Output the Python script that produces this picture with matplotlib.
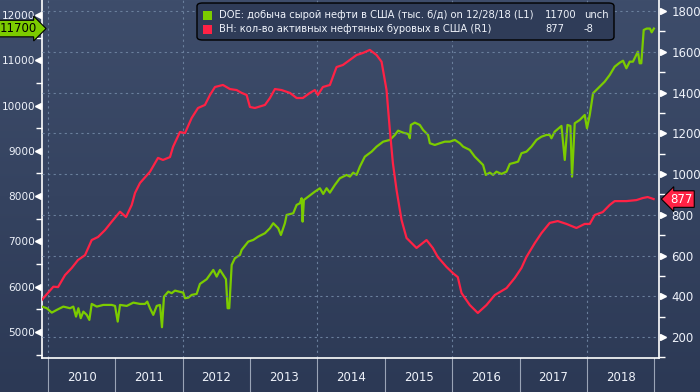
import numpy as np
import matplotlib
matplotlib.use("Agg")
import matplotlib.pyplot as plt
from matplotlib.colors import LinearSegmentedColormap
from matplotlib.patches import FancyBboxPatch, Rectangle

plt.rcParams['font.family'] = ['DejaVu Sans']

# US crude production, thousand b/d (left axis), decimal years
oil_t = [2009.881, 2009.981, 2010.055, 2010.129, 2010.227, 2010.326, 2010.375, 2010.415,
         2010.450, 2010.485, 2010.524, 2010.574, 2010.613, 2010.648, 2010.723, 2010.820,
         2010.945, 2010.994, 2011.034, 2011.068, 2011.168, 2011.266, 2011.365, 2011.439,
         2011.473, 2011.513, 2011.562, 2011.613, 2011.662, 2011.691, 2011.721, 2011.785,
         2011.835, 2011.884, 2012.007, 2012.033, 2012.082, 2012.132, 2012.206, 2012.255,
         2012.355, 2012.453, 2012.503, 2012.552, 2012.601, 2012.641, 2012.666, 2012.690,
         2012.726, 2012.774, 2012.849, 2012.874, 2012.972, 2013.046, 2013.120, 2013.220,
         2013.294, 2013.343, 2013.417, 2013.457, 2013.516, 2013.542, 2013.640, 2013.690,
         2013.739, 2013.764, 2013.779, 2013.798, 2013.862, 2013.961, 2014.036, 2014.085,
         2014.135, 2014.184, 2014.258, 2014.332, 2014.432, 2014.481, 2014.530, 2014.580,
         2014.629, 2014.703, 2014.803, 2014.877, 2014.975, 2015.074, 2015.148, 2015.197,
         2015.271, 2015.346, 2015.371, 2015.386, 2015.445, 2015.519, 2015.568, 2015.642,
         2015.668, 2015.742, 2015.816, 2015.890, 2015.964, 2016.039, 2016.113, 2016.162,
         2016.261, 2016.335, 2016.409, 2016.458, 2016.499, 2016.558, 2016.607, 2016.657,
         2016.731, 2016.806, 2016.855, 2016.929, 2016.978, 2017.028, 2017.102, 2017.151,
         2017.176, 2017.251, 2017.325, 2017.399, 2017.448, 2017.473, 2017.522, 2017.622,
         2017.671, 2017.711, 2017.755, 2017.779, 2017.819, 2017.893, 2017.967, 2018.001,
         2018.042, 2018.091, 2018.165, 2018.264, 2018.338, 2018.412, 2018.487, 2018.536,
         2018.586, 2018.635, 2018.683, 2018.733, 2018.757, 2018.783, 2018.807, 2018.843,
         2018.887, 2018.936, 2018.961, 2018.994]
oil_v = [5576, 5525, 5428, 5488, 5561, 5525, 5561, 5340,
         5525, 5305, 5450, 5378, 5267, 5620, 5561, 5598,
         5598, 5576, 5230, 5598, 5576, 5649, 5620, 5620,
         5671, 5525, 5378, 5576, 5598, 5106, 5781, 5892,
         5857, 5914, 5870, 5746, 5759, 5819, 5841, 6062,
         6166, 6371, 6223, 6371, 6260, 6166, 5525, 5525,
         6481, 6629, 6702, 6812, 6996, 7033, 7106, 7181,
         7291, 7402, 7291, 7143, 7402, 7585, 7622, 7806,
         7843, 7954, 7437, 7916, 7989, 8099, 8174, 8049,
         8174, 8077, 8247, 8395, 8468, 8431, 8519, 8468,
         8651, 8872, 8982, 9093, 9203, 9241, 9351, 9446,
         9402, 9373, 9278, 9572, 9623, 9572, 9461, 9351,
         9168, 9130, 9168, 9203, 9203, 9241, 9168, 9093,
         9020, 8872, 8762, 8689, 8468, 8519, 8468, 8541,
         8490, 8541, 8711, 8740, 8762, 8947, 8982, 9057,
         9093, 9241, 9313, 9351, 9351, 9278, 9424, 9550,
         8799, 9572, 9550, 8430, 9609, 9682, 9792, 9499,
         9792, 10272, 10382, 10528, 10675, 10859, 10947, 10991,
         10823, 10969, 10969, 11117, 11190, 10934, 10934, 11669,
         11700, 11700, 11618, 11700]

# Baker Hughes US oil rigs (right axis)
rig_t = [2009.907, 2010.079, 2010.148, 2010.252, 2010.352, 2010.445, 2010.549, 2010.648,
         2010.742, 2010.846, 2010.945, 2011.068, 2011.157, 2011.242, 2011.291, 2011.365,
         2011.513, 2011.632, 2011.706, 2011.810, 2011.855, 2011.958, 2012.033, 2012.132,
         2012.226, 2012.329, 2012.404, 2012.478, 2012.596, 2012.700, 2012.800, 2012.874,
         2012.948, 2012.997, 2013.071, 2013.220, 2013.294, 2013.368, 2013.467, 2013.591,
         2013.690, 2013.783, 2013.887, 2013.961, 2014.006, 2014.080, 2014.184, 2014.283,
         2014.377, 2014.481, 2014.580, 2014.674, 2014.777, 2014.877, 2014.951, 2015.025,
         2015.074, 2015.119, 2015.174, 2015.223, 2015.248, 2015.322, 2015.470, 2015.619,
         2015.712, 2015.786, 2015.915, 2016.009, 2016.083, 2016.138, 2016.261, 2016.380,
         2016.509, 2016.632, 2016.806, 2016.929, 2017.028, 2017.102, 2017.226, 2017.325,
         2017.448, 2017.567, 2017.696, 2017.844, 2017.967, 2018.042, 2018.116, 2018.234,
         2018.338, 2018.412, 2018.586, 2018.735, 2018.828, 2018.902, 2018.990]
rig_v = [382, 447, 445, 504, 539, 578, 602, 676,
         691, 725, 766, 815, 789, 848, 907, 956,
         1011, 1079, 1069, 1083, 1133, 1206, 1201, 1275,
         1324, 1339, 1388, 1427, 1437, 1417, 1412, 1398,
         1388, 1329, 1324, 1339, 1373, 1417, 1412, 1398,
         1373, 1373, 1398, 1412, 1388, 1427, 1437, 1525,
         1535, 1560, 1584, 1594, 1609, 1584, 1551, 1412,
         1216, 1054, 921, 823, 774, 686, 637, 676,
         637, 593, 544, 514, 494, 416, 357, 318,
         357, 406, 440, 490, 539, 593, 661, 710,
         760, 769, 755, 735, 755, 755, 799, 813,
         848, 867, 867, 872, 882, 887, 877]

years = list(range(2010, 2019))
legend_names = ["DOE: добыча сырой нефти в США (тыс. б/д) on 12/28/18 (L1)",
                "BH: кол-во активных нефтяных буровых в США (R1)"]
legend_last = ["11700", "877"]
legend_chg = ["unch", "-8"]

GREEN = '#7ccc00'
RED = '#ff2245'
TXT = '#eef2fa'
GRID = '#6a7f9c'

fig = plt.figure(figsize=(7, 3.92), dpi=100)
fig.patch.set_facecolor('#2c3955')

# background gradient for whole figure
bg = fig.add_axes([0, 0, 1, 1], zorder=-10)
grad = np.linspace(0, 1, 256).reshape(-1, 1)
cmap = LinearSegmentedColormap.from_list('bg', ['#3e4d6b', '#2c3955'])
bg.imshow(grad, aspect='auto', cmap=cmap, extent=[0, 1, 0, 1], origin='upper')
bg.set_axis_off()

L, R, B, T = 42 / 700, 659 / 700, 34 / 392, 1.0
ax = fig.add_axes([L, B, R - L, T - B])
ax.patch.set_alpha(0)
ax2 = ax.twinx()

ax.plot(oil_t, oil_v, color=GREEN, lw=1.6, zorder=3)
ax2.plot(rig_t, rig_v, color=RED, lw=1.6, zorder=3)

ax.set_xlim(2009.91, 2019.07)
ax.set_ylim(4426, 12331)
ax2.set_ylim(97, 1854)

# grid
for v in range(200, 1801, 200):
    ax2.axhline(v, color=GRID, lw=0.8, ls=(0, (2, 3)), zorder=1)
for yr in [2010, 2012, 2014, 2016, 2018]:
    ax.axvline(yr, color=GRID, lw=0.8, ls=(0, (2, 3)), zorder=1)

for a in (ax, ax2):
    for s in a.spines.values():
        s.set_visible(False)
ax.spines['left'].set_visible(True)
ax.spines['bottom'].set_visible(True)
ax2.spines['right'].set_visible(True)
for s in (ax.spines['left'], ax.spines['bottom'], ax2.spines['right']):
    s.set_color('white')
    s.set_linewidth(1.2)

# y ticks
ax.set_xticks([])
ax.set_yticks(range(5000, 12001, 1000))
ax.set_yticks(range(4500, 12001, 1000), minor=True)
ax.tick_params(axis='y', which='major', length=0, pad=5, labelsize=7.6, labelcolor=TXT)
ax.tick_params(axis='y', which='minor', length=4, color='white', width=1)
ax2.set_yticks(range(200, 1801, 200))
ax2.set_yticks(range(100, 1801, 200), minor=True)
ax2.tick_params(axis='y', which='major', length=0, pad=9, labelsize=8.5, labelcolor=TXT)
ax2.tick_params(axis='y', which='minor', length=4, color='white', width=1)

# triangle tick markers
ltr = ax.get_yaxis_transform()
ax.plot([-0.006] * 8, list(range(5000, 12001, 1000)), marker='<', ms=5, color='white',
        ls='none', transform=ltr, clip_on=False)
rtr = ax2.get_yaxis_transform()
ax2.plot([1.006] * 9, list(range(200, 1801, 200)), marker='>', ms=5, color='white',
         ls='none', transform=rtr, clip_on=False)

# year labels and separators below the axis
xtr = ax.get_xaxis_transform()
for yr in years + [2019]:
    ax.plot([yr, yr], [0, -0.1], color='#9aa4b6', lw=0.8, transform=xtr, clip_on=False)
for yr in years:
    ax.text(yr + 0.5, -0.055, str(yr), transform=xtr, ha='center', va='center',
            color=TXT, fontsize=8.5)

# last value badges
ax.text(-0.068, 11700, legend_last[0], transform=ltr, ha='left', va='center', fontsize=8.5,
        color='black', bbox=dict(boxstyle='rarrow,pad=0.15', fc=GREEN, ec='black', lw=0.8),
        clip_on=False)
ax2.text(1.018, 877, legend_last[1], transform=rtr, ha='left', va='center', fontsize=8.5,
         color='white', bbox=dict(boxstyle='larrow,pad=0.15', fc=RED, ec='black', lw=0.8),
         clip_on=False)

# legend box
lb = FancyBboxPatch((197 / 700, 1 - 40 / 392), 417 / 700, 37 / 392,
                    boxstyle='round,pad=0,rounding_size=0.008', transform=fig.transFigure,
                    fc='#2f3c58', ec='black', lw=1, zorder=20)
fig.patches.append(lb)
for i, (name, last, chg, col) in enumerate(zip(legend_names, legend_last, legend_chg,
                                                 [GREEN, RED])):
    yy = 1 - (15 + i * 14) / 392
    fig.patches.append(Rectangle((203 / 700, yy - 4.5 / 392), 9 / 700, 9 / 392,
                                 transform=fig.transFigure, fc=col, ec='none', zorder=21))
    fig.text(219 / 700, yy, name, ha='left', va='center', color=TXT, fontsize=7.2, zorder=22)
    fig.text(545 / 700, yy, last, ha='left', va='center', color=TXT, fontsize=7.2, zorder=22)
    fig.text(584 / 700, yy, chg, ha='left', va='center', color=TXT, fontsize=7.2, zorder=22)

fig.savefig('out.png', dpi=100, facecolor=fig.get_facecolor())
